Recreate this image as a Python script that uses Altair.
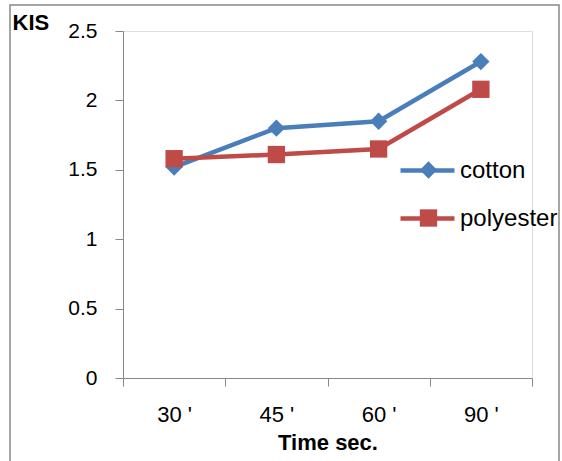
import altair as alt
import pandas as pd

times = ["30 '", "45 '", "60 '", "90 '"]
cotton = [1.52, 1.80, 1.85, 2.28]
polyester = [1.58, 1.61, 1.65, 2.08]
series_names = ["cotton", "polyester"]
series_colors = ["#4A7EBB", "#BE4B48"]

rows = []
for t, c, p in zip(times, cotton, polyester):
    rows.append({"time": t, "series": "cotton", "value": c})
    rows.append({"time": t, "series": "polyester", "value": p})
df = pd.DataFrame(rows)

FONT = "Lato"
LEG_X = 275

x_enc = alt.X(
    "time:N",
    sort=times,
    bandPosition=0.5,
    scale=alt.Scale(type="band", paddingInner=0, paddingOuter=0),
    axis=alt.Axis(
        title="Time sec.",
        labelAngle=0,
        tickBand="extent",
        tickSize=8,
        labelPadding=18,
        labelFontSize=22,
        titleFontSize=22,
        titleFontWeight="bold",
        titlePadding=7,
    ),
)
y_enc = alt.Y(
    "value:Q",
    scale=alt.Scale(domain=[0, 2.5], nice=False, zero=True),
    axis=alt.Axis(
        values=[0, 0.5, 1, 1.5, 2, 2.5],
        format="~g",
        title="KIS",
        titleAngle=0,
        titleX=-111,
        titleY=-9,
        titleAlign="left",
        titleBaseline="middle",
        titleFontSize=22,
        titleFontWeight="bold",
        tickSize=8,
        labelPadding=18,
        labelFontSize=21,
        grid=False,
    ),
)

line_legend = alt.Legend(
    title=None, orient="none", legendX=LEG_X, legendY=110,
    symbolType="M-1,0H1", symbolSize=2916, symbolStrokeWidth=4.5,
    labelFontSize=24, labelOffset=3, rowPadding=6,
)
point_legend = alt.Legend(
    title=None, orient="none", legendX=LEG_X + 27 - 5.5, legendY=130,
    symbolSize=300, labelExpr="''", labelFontSize=1, labelOffset=0, rowPadding=30,
    symbolOpacity=1, symbolStrokeWidth=0,
)

lines = alt.Chart(df).mark_line(strokeWidth=4.5).encode(
    x=x_enc, y=y_enc,
    color=alt.Color("series:N", sort=series_names,
                    scale=alt.Scale(domain=series_names, range=series_colors),
                    legend=line_legend),
)
points = alt.Chart(df).mark_point(filled=True, opacity=1, size=300).encode(
    x=x_enc,
    y=y_enc,
    color=alt.Color("series:N", sort=series_names,
                    scale=alt.Scale(domain=series_names, range=series_colors),
                    legend=point_legend),
    shape=alt.Shape("series:N", sort=series_names,
                    scale=alt.Scale(domain=series_names, range=["diamond", "square"]),
                    legend=point_legend),
)

frame = alt.Chart(pd.DataFrame({"f": [0]})).mark_rect(
    fill=None, stroke="#888888", strokeWidth=1.5, clip=False
).encode(
    x=alt.value(-113), x2=alt.value(436), y=alt.value(-26), y2=alt.value(440)
)

chart = alt.layer(frame, lines, points).resolve_scale(
    color="independent", shape="independent"
).properties(
    width=409, height=347,
    padding={"left": 123, "top": 31, "right": 30, "bottom": 83},
    autosize=alt.AutoSizeParams(type="none"),
).configure_view(stroke=None).configure_axis(
    domainColor="#868686", tickColor="#868686", labelColor="#000000",
    titleColor="#000000", labelFont=FONT, titleFont=FONT, domainWidth=1.3, tickWidth=1.3,
).configure_legend(labelFont=FONT, labelColor="#000000").configure(background="white")

chart.save("out.html", embed_options={"renderer": "svg", "actions": False})
